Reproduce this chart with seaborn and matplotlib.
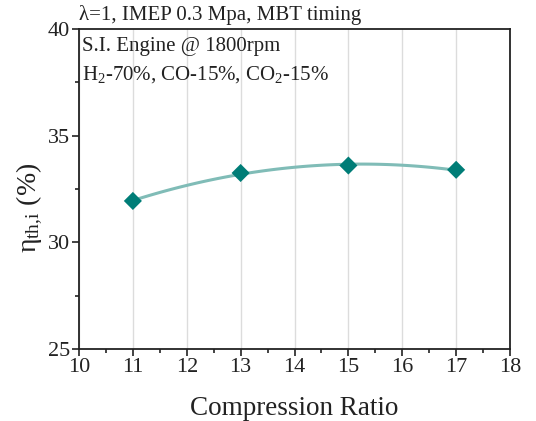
import numpy as np
import pandas as pd
import seaborn as sns
import matplotlib
matplotlib.use("Agg")
import matplotlib.pyplot as plt
from matplotlib.ticker import MultipleLocator

# Indicated thermal efficiency vs compression ratio
compression_ratio = [11, 13, 15, 17]
efficiency = [31.94, 33.25, 33.6, 33.4]

df = pd.DataFrame({"cr": compression_ratio, "eta": efficiency})

sns.set_theme(style="white")
plt.rcParams["font.family"] = ["Liberation Serif", "DejaVu Serif"]
plt.rcParams["mathtext.fontset"] = "custom"
plt.rcParams["mathtext.rm"] = "Liberation Serif"
plt.rcParams["mathtext.it"] = "Liberation Serif"
plt.rcParams["mathtext.bf"] = "Liberation Serif:bold"

fig = plt.figure(figsize=(5.36, 4.21), dpi=100)
ax = fig.add_axes([79 / 536, 1 - 349 / 421, (510 - 79) / 536, (349 - 29) / 421])

# smooth quadratic trend through the points
sns.regplot(data=df, x="cr", y="eta", order=2, ci=None, scatter=False, truncate=True,
            line_kws=dict(color="#80bcb7", lw=2.2), ax=ax)
sns.scatterplot(data=df, x="cr", y="eta", marker="D", s=85, color="#007d77",
                edgecolor="none", ax=ax, zorder=5)

ax.set_xlim(10, 18)
ax.set_ylim(25, 40)
ax.xaxis.set_major_locator(MultipleLocator(1))
ax.xaxis.set_minor_locator(MultipleLocator(0.5))
ax.yaxis.set_major_locator(MultipleLocator(5))
ax.yaxis.set_minor_locator(MultipleLocator(2.5))
ax.grid(axis="x", which="major", color="#dcdcdc", lw=1)
ax.grid(axis="y", visible=False)

for sp in ax.spines.values():
    sp.set_color("#222222")
    sp.set_linewidth(1.3)

ax.tick_params(which="major", direction="out", length=5, width=1.2, color="#222222",
               labelsize=16, pad=1.5, bottom=True, left=True, top=False, right=False,
               labelcolor="#222222")
ax.tick_params(which="minor", direction="out", length=3, width=1.2, color="#222222",
               bottom=True, left=True, top=False, right=False)

ax.set_xlabel("Compression Ratio", fontsize=19.5, color="#222222", labelpad=14)
ax.set_ylabel(r"$\eta_{\mathrm{th,\!i}}$ (%)", fontsize=20, color="#222222")
ax.yaxis.set_label_coords(-0.08, 0.44)

ax.text(0.0, 1.012, "λ=1, IMEP 0.3 Mpa, MBT timing", transform=ax.transAxes,
        fontsize=15, color="#222222", ha="left", va="bottom")
ax.text(0.008, 0.975, "S.I. Engine @ 1800rpm", transform=ax.transAxes,
        fontsize=15, color="#222222", ha="left", va="top")
ax.text(0.008, 0.89, r"H$_2$-70%, CO-15%, CO$_2$-15%", transform=ax.transAxes,
        fontsize=15, color="#222222", ha="left", va="top")

fig.savefig("out.png", dpi=100)
